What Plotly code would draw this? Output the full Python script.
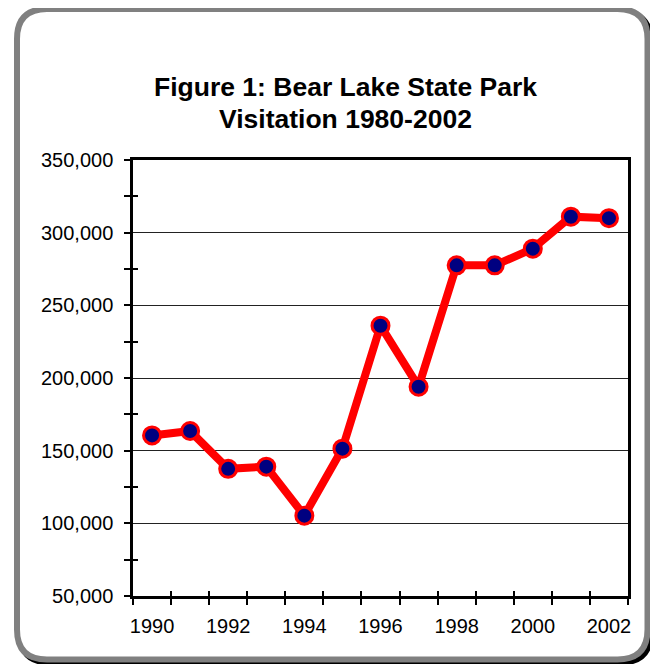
import plotly.graph_objects as go

years = [1990, 1991, 1992, 1993, 1994, 1995, 1996, 1997, 1998, 1999, 2000, 2001, 2002]
visits = [160500, 163500, 137500, 139000, 105300, 151400, 236000, 194000, 277500, 277500, 289000, 311000, 310000]
tick_years = [1990, 1992, 1994, 1996, 1998, 2000, 2002]
tick_labels = [str(y) for y in tick_years]
title_line1 = "Figure 1: Bear Lake State Park"
title_line2 = "Visitation 1980-2002"

# page has an 8px body margin; work in page pixels and convert
OFF = 8
W, H = 658 - OFF, 664 - OFF
PL, PR, PT, PB = 133, 628, 160, 596  # plot area in page pixels
ML, MT = PL - OFF, PT - OFF
MR, MB = W - (PR - OFF), H - (PB - OFF)
PW, PH = PR - PL, PB - PT


def px_x(px):
    return (px - PL) / PW


def px_y(py):
    return (PB - py) / PH


def rounded_rect(x0, y0, x1, y1, r):
    def P(x, y):
        return f"{px_x(x):.5f},{px_y(y):.5f}"
    return (
        f"M {P(x0 + r, y0)} L {P(x1 - r, y0)} Q {P(x1, y0)} {P(x1, y0 + r)} "
        f"L {P(x1, y1 - r)} Q {P(x1, y1)} {P(x1 - r, y1)} "
        f"L {P(x0 + r, y1)} Q {P(x0, y1)} {P(x0, y1 - r)} "
        f"L {P(x0, y0 + r)} Q {P(x0, y0)} {P(x0 + r, y0)} Z"
    )


boundaries = [y - 0.5 for y in years] + [years[-1] + 0.5]
minor_y = [75000, 125000, 175000, 225000, 275000, 325000]

fig = go.Figure()
fig.add_trace(go.Scatter(
    x=years, y=visits, mode="lines+markers",
    line=dict(color="#FF0000", width=8),
    marker=dict(size=17, color="#000080", line=dict(color="#FF0000", width=3)),
    hoverinfo="x+y",
))
fig.add_trace(go.Scatter(
    x=years, y=visits, xaxis="x2", yaxis="y2", mode="markers",
    marker=dict(opacity=0), hoverinfo="skip", showlegend=False,
))

font = "Arial, 'Liberation Sans', sans-serif"

fig.update_layout(
    width=W, height=H,
    margin=dict(l=ML, r=MR, t=MT, b=MB, pad=0),
    paper_bgcolor="white", plot_bgcolor="white",
    showlegend=False,
    font=dict(family=font, color="black", size=20),
    xaxis=dict(
        range=[1989.5, 2002.5], tickmode="array", tickvals=tick_years, ticktext=tick_labels,
        ticks="", showline=True, linecolor="black", linewidth=2.5, mirror=True,
        showgrid=False, zeroline=False, tickfont=dict(size=20, family=font, color="black"),
        ticklabelstandoff=10,
        minor=dict(tickmode="array", tickvals=boundaries, ticks="outside", ticklen=6,
                   tickcolor="black", tickwidth=1.5, showgrid=False),
    ),
    yaxis=dict(
        range=[50000, 350000], tickmode="linear", tick0=50000, dtick=50000, tickformat=",",
        ticks="outside", ticklen=6, tickwidth=1.5, tickcolor="black",
        showline=True, linecolor="black", linewidth=2.5, mirror=True,
        showgrid=True, gridcolor="#222222", gridwidth=1, zeroline=False,
        tickfont=dict(size=20, family=font, color="black"),
        ticklabelstandoff=7,
        minor=dict(tickmode="array", tickvals=minor_y, ticks="outside", ticklen=6,
                   tickcolor="black", tickwidth=1.5, showgrid=False),
    ),
    xaxis2=dict(
        overlaying="x", matches="x", anchor="y2", side="bottom",
        tickmode="array", tickvals=boundaries, ticks="inside", ticklen=5, tickwidth=1.5,
        tickcolor="black", showticklabels=False, showline=False, showgrid=False, zeroline=False,
    ),
    yaxis2=dict(
        overlaying="y", matches="y", anchor="x2", side="left",
        tickmode="array", tickvals=minor_y, ticks="inside", ticklen=5, tickwidth=1.5,
        tickcolor="black", showticklabels=False, showline=False, showgrid=False, zeroline=False,
    ),
    shapes=[
        dict(type="path", xref="paper", yref="paper", path=rounded_rect(20, 12, 650.5, 662.5, 30),
             line=dict(color="black", width=6), fillcolor="black", layer="below"),
        dict(type="path", xref="paper", yref="paper", path=rounded_rect(17, 9, 647.5, 659.5, 30),
             line=dict(color="#808080", width=6), fillcolor="white", layer="below"),
    ],
    annotations=[
        dict(text=f"<b>{title_line1}</b>", xref="paper", yref="paper", x=px_x(345), y=px_y(87),
             xanchor="center", yanchor="middle", showarrow=False,
             font=dict(size=26.5, family=font, color="black")),
        dict(text=f"<b>{title_line2}</b>", xref="paper", yref="paper", x=px_x(345), y=px_y(119),
             xanchor="center", yanchor="middle", showarrow=False,
             font=dict(size=26.5, family=font, color="black")),
    ],
)

fig.write_html("out.html")
